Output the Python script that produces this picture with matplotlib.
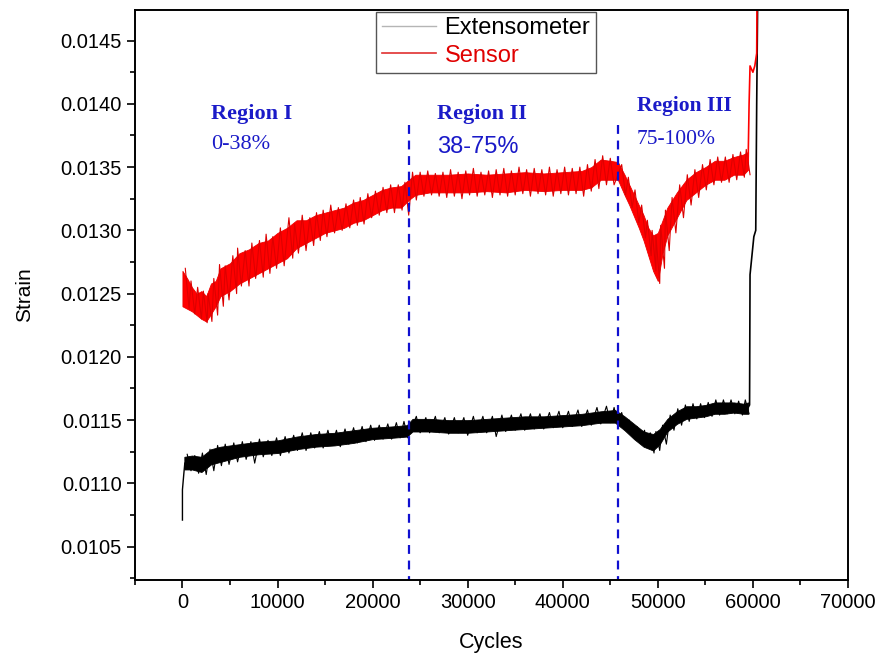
import matplotlib.pyplot as plt
from matplotlib.lines import Line2D
import numpy as np

# sensor (red) band: cycles, upper and lower edge of the noise
sensor_cycles = [0, 500, 1000, 1500, 2000, 2500, 3000, 3500, 4000, 5000, 6000, 7000, 8000, 9000,
                 10000, 11000, 12000, 13000, 14000, 15000, 16000, 17000, 18000, 19000, 20000,
                 21000, 22000, 23000, 23800, 24500, 26000, 28000, 30000, 32000, 34000, 36000,
                 38000, 40000, 42000, 43000, 44000, 45000, 45800, 46500, 47000, 48000, 48500,
                 49000, 49500, 50000, 50500, 51000, 52000, 53000, 54000, 55000, 56000, 57000,
                 58000, 59000, 59500]
sensor_hi = [12.68, 12.62, 12.55, 12.50, 12.52, 12.48, 12.58, 12.60, 12.70, 12.74, 12.82, 12.85,
             12.90, 12.92, 12.98, 13.02, 13.08, 13.08, 13.12, 13.14, 13.16, 13.18, 13.22, 13.24,
             13.28, 13.32, 13.34, 13.35, 13.40, 13.44, 13.44, 13.44, 13.45, 13.44, 13.45, 13.46,
             13.45, 13.46, 13.47, 13.50, 13.56, 13.55, 13.54, 13.44, 13.36, 13.20, 13.12, 13.02,
             12.96, 12.98, 13.08, 13.18, 13.30, 13.40, 13.46, 13.50, 13.55, 13.55, 13.58, 13.60,
             13.62]
sensor_lo = [12.40, 12.38, 12.36, 12.33, 12.30, 12.28, 12.34, 12.40, 12.48, 12.52, 12.58, 12.62,
             12.66, 12.70, 12.74, 12.78, 12.86, 12.90, 12.94, 12.98, 13.00, 13.02, 13.06, 13.08,
             13.12, 13.16, 13.18, 13.18, 13.24, 13.28, 13.30, 13.30, 13.30, 13.31, 13.30, 13.32,
             13.31, 13.32, 13.32, 13.34, 13.40, 13.40, 13.40, 13.28, 13.20, 13.02, 12.92, 12.80,
             12.68, 12.60, 12.82, 12.96, 13.10, 13.24, 13.30, 13.36, 13.40, 13.40, 13.44, 13.44,
             13.48]
# noise extremes that stick out of the red band
sensor_spike_cycles = [300, 900, 1600, 2200, 2700, 3300, 3900, 4500, 5300, 5800, 6600, 7300, 8100,
                       8800, 9500, 10300, 11200, 11800, 12600, 13400, 14100, 14800, 15600, 16400,
                       17200, 18000, 18700, 19500, 20300, 21100, 21900, 22700, 23400, 24200,
                       25000, 25800, 26600, 27400, 28200, 29000, 29800, 30600, 31400, 32200,
                       33000, 33800, 34600, 35400, 36200, 37000, 37800, 38600, 39400, 40200,
                       41000, 41800, 42600, 43400, 44200, 45000, 46200, 46900, 47600, 48300,
                       48900, 49400, 49800, 50300, 50800, 51500, 52300, 53100, 53900, 54700,
                       55500, 56300, 57100, 57900, 58700, 59300]
sensor_spike_lo = [12.38, 12.34, 12.30, 12.27, 12.28, 12.33, 12.40, 12.45, 12.50, 12.56, 12.56,
                   12.62, 12.63, 12.66, 12.70, 12.72, 12.78, 12.82, 12.84, 12.88, 12.92, 12.95,
                   12.98, 13.00, 13.02, 13.04, 13.05, 13.10, 13.12, 13.14, 13.14, 13.16, 13.12,
                   13.24, 13.27, 13.28, 13.27, 13.26, 13.27, 13.25, 13.28, 13.27, 13.28, 13.26,
                   13.28, 13.27, 13.28, 13.29, 13.27, 13.29, 13.28, 13.27, 13.29, 13.28, 13.29,
                   13.27, 13.31, 13.33, 13.36, 13.36, 13.28, 13.18, 13.06, 12.94, 12.80, 12.68,
                   12.58, 12.70, 12.84, 12.98, 13.10, 13.20, 13.26, 13.32, 13.36, 13.38, 13.38,
                   13.40, 13.42, 13.44]
sensor_spike_hi = [12.70, 12.60, 12.55, 12.52, 12.50, 12.62, 12.73, 12.72, 12.80, 12.86, 12.84,
                   12.90, 12.92, 12.97, 12.95, 13.02, 13.10, 13.05, 13.12, 13.10, 13.14, 13.16,
                   13.20, 13.18, 13.21, 13.24, 13.26, 13.29, 13.31, 13.34, 13.36, 13.36, 13.38,
                   13.46, 13.46, 13.47, 13.45, 13.46, 13.48, 13.46, 13.47, 13.49, 13.46, 13.47,
                   13.48, 13.49, 13.47, 13.50, 13.48, 13.49, 13.48, 13.50, 13.48, 13.50, 13.49,
                   13.50, 13.52, 13.56, 13.59, 13.57, 13.52, 13.42, 13.32, 13.20, 13.08, 13.00,
                   12.96, 13.04, 13.16, 13.26, 13.36, 13.44, 13.48, 13.52, 13.56, 13.58, 13.58,
                   13.60, 13.62, 13.64]
# final failure jump of the sensor
sensor_end_cycles = [59500, 59600, 59700, 60000, 60200, 60400, 60450]
sensor_end = [13.55, 14.00, 14.30, 14.25, 14.30, 14.40, 15.00]

# extensometer (black) band
ext_cycles = [200, 1000, 2000, 3000, 4000, 5000, 6000, 8000, 10000, 12000, 14000, 16000, 18000,
              20000, 22000, 23600, 24200, 26000, 28000, 30000, 32000, 34000, 36000, 38000, 40000,
              42000, 44000, 45500, 46500, 47500, 48500, 49500, 50200, 51000, 52000, 53000, 54000,
              55000, 56000, 57000, 58000, 59000, 59500]
ext_hi = [11.21, 11.22, 11.21, 11.27, 11.29, 11.30, 11.31, 11.33, 11.34, 11.37, 11.39, 11.40,
          11.42, 11.44, 11.45, 11.46, 11.51, 11.51, 11.50, 11.50, 11.51, 11.52, 11.53, 11.53,
          11.54, 11.55, 11.57, 11.58, 11.53, 11.47, 11.41, 11.39, 11.43, 11.51, 11.57, 11.61,
          11.61, 11.62, 11.64, 11.64, 11.64, 11.63, 11.64]
ext_lo = [11.11, 11.11, 11.09, 11.15, 11.17, 11.19, 11.21, 11.23, 11.24, 11.27, 11.29, 11.30,
          11.32, 11.35, 11.36, 11.37, 11.41, 11.41, 11.40, 11.40, 11.41, 11.42, 11.43, 11.44,
          11.45, 11.46, 11.48, 11.48, 11.42, 11.35, 11.29, 11.26, 11.31, 11.41, 11.47, 11.51,
          11.52, 11.53, 11.55, 11.55, 11.56, 11.55, 11.55]
ext_spike_cycles = [500, 1300, 2100, 2900, 3700, 4500, 5400, 6300, 7200, 8100, 9000, 9900, 10800,
                    11700, 12600, 13500, 14400, 15300, 16200, 17100, 18000, 18900, 19800, 20700,
                    21600, 22500, 23300, 24600, 25600, 26600, 27600, 28600, 29600, 30600, 31600,
                    32600, 33600, 34600, 35600, 36600, 37600, 38600, 39600, 40600, 41600, 42600,
                    43600, 44600, 45400, 46200, 47000, 47800, 48600, 49200, 49800, 50500, 51300,
                    52100, 52900, 53700, 54500, 55300, 56100, 56900, 57700, 58500, 59200]
ext_spike_lo = [11.10, 11.08, 11.07, 11.10, 11.14, 11.15, 11.17, 11.19, 11.16, 11.21, 11.22,
                11.22, 11.24, 11.26, 11.26, 11.28, 11.28, 11.30, 11.29, 11.31, 11.32, 11.33,
                11.34, 11.35, 11.35, 11.36, 11.36, 11.40, 11.40, 11.40, 11.39, 11.40, 11.38,
                11.40, 11.40, 11.37, 11.41, 11.42, 11.42, 11.43, 11.43, 11.44, 11.44, 11.45,
                11.45, 11.46, 11.47, 11.48, 11.47, 11.44, 11.38, 11.33, 11.28, 11.24, 11.26,
                11.31, 11.42, 11.46, 11.49, 11.51, 11.52, 11.53, 11.54, 11.55, 11.55, 11.54,
                11.55]
ext_spike_hi = [11.23, 11.22, 11.24, 11.27, 11.30, 11.31, 11.32, 11.33, 11.33, 11.35, 11.34,
                11.36, 11.37, 11.38, 11.40, 11.40, 11.41, 11.42, 11.42, 11.43, 11.44, 11.45,
                11.46, 11.46, 11.47, 11.48, 11.49, 11.53, 11.52, 11.53, 11.52, 11.52, 11.52,
                11.53, 11.53, 11.53, 11.54, 11.54, 11.55, 11.55, 11.55, 11.56, 11.57, 11.57,
                11.58, 11.58, 11.60, 11.61, 11.60, 11.56, 11.50, 11.45, 11.42, 11.40, 11.41,
                11.46, 11.54, 11.59, 11.62, 11.63, 11.63, 11.64, 11.66, 11.66, 11.66, 11.65,
                11.66]
ext_start_cycles = [0, 0, 150, 250]
ext_start = [10.71, 10.95, 11.08, 11.16]
ext_end_cycles = [59500, 59650, 59700, 59900, 60100, 60300, 60400, 60500]
ext_end = [11.60, 11.62, 12.65, 12.80, 12.95, 13.00, 14.00, 14.80]

region_bounds = [23800, 45800]


def zigzag(xs, lo, hi):
    # run the trace from each spike top to the matching bottom, like a noisy signal
    px, py = [], []
    for x, l, h in zip(xs, lo, hi):
        px += [x, x + 400]
        py += [h / 1000, l / 1000]
    return px, py


fig = plt.figure(figsize=(8.76, 6.58), dpi=100)
ax = fig.add_axes([0.154, 0.1185, 0.814, 0.8665])

ec = np.array(ext_cycles)
ax.fill_between(ec, np.array(ext_lo) / 1000, np.array(ext_hi) / 1000,
                color='black', edgecolor='black', linewidth=0.6)
zx, zy = zigzag(ext_spike_cycles, ext_spike_lo, ext_spike_hi)
ax.plot(zx, zy, color='black', linewidth=0.8)
ax.plot(ext_start_cycles, np.array(ext_start) / 1000, color='black', linewidth=1)
ax.plot(ext_end_cycles, np.array(ext_end) / 1000, color='black', linewidth=1.2)

sc = np.array(sensor_cycles)
ax.fill_between(sc, np.array(sensor_lo) / 1000, np.array(sensor_hi) / 1000,
                facecolor='#ff0000', edgecolor='#ee0000', linewidth=0.6)
zx, zy = zigzag(sensor_spike_cycles, sensor_spike_lo, sensor_spike_hi)
ax.plot(zx, zy, color='#dd0000', linewidth=0.8)
ax.plot(sensor_end_cycles, np.array(sensor_end) / 1000, color='#ff0000', linewidth=1.2)

for xb in region_bounds:
    ax.plot([xb, xb], [0.0102, 0.01388], color='#1010d0', linewidth=1.6,
            linestyle=(0, (4, 3)))

blue = '#1a1ac8'
ax.text(3000, 0.01392, 'Region I', family='Liberation Serif', fontweight='bold',
        fontsize=16, color=blue, va='center')
ax.text(3000, 0.01368, '0-38%', family='Liberation Serif', fontsize=16, color=blue, va='center')
ax.text(26800, 0.01392, 'Region II', family='Liberation Serif', fontweight='bold',
        fontsize=16, color=blue, va='center')
ax.text(26800, 0.01366, '38-75%', family='Liberation Sans', fontsize=17, color=blue, va='center')
ax.text(47800, 0.01398, 'Region III', family='Liberation Serif', fontweight='bold',
        fontsize=15.5, color=blue, va='center')
ax.text(47800, 0.01372, '75-100%', family='Liberation Serif', fontsize=15.5, color=blue,
        va='center')

ax.set_xlim(-5000, 70000)
ax.set_ylim(0.010236, 0.014743)
ax.set_xticks(np.arange(0, 70001, 10000))
ax.set_xticks(np.arange(-5000, 70001, 5000), minor=True)
ax.set_yticks(np.arange(0.0105, 0.01451, 0.0005))
ax.set_yticks(np.arange(0.01025, 0.01475, 0.00025), minor=True)
ax.set_yticklabels(['%.4f' % v for v in np.arange(0.0105, 0.01451, 0.0005)])
ax.tick_params(axis='both', which='major', direction='out', length=6, width=1.2,
               labelsize=14.5)
ax.tick_params(axis='both', which='minor', direction='out', length=3.5, width=1.2)
for s in ax.spines.values():
    s.set_linewidth(1.4)
for lab in ax.get_xticklabels() + ax.get_yticklabels():
    lab.set_family('Liberation Sans')

ax.set_xlabel('Cycles', fontsize=15.5, family='Liberation Sans', labelpad=14)
ax.set_ylabel('Strain', fontsize=15, family='Liberation Sans', labelpad=19)

handles = [Line2D([], [], color='#b5b5b5', linewidth=1),
           Line2D([], [], color='#e03030', linewidth=1.2)]
leg = ax.legend(handles, ['Extensometer', 'Sensor'], loc='upper left',
                bbox_to_anchor=(0.338, 0.997), borderaxespad=0, fancybox=False,
                edgecolor='#555555', framealpha=1, prop={'family': 'Liberation Sans', 'size': 17},
                handlelength=2.3, handletextpad=0.35, labelspacing=0.22, borderpad=0.25)
leg.get_frame().set_linewidth(1)
leg.get_texts()[1].set_color('#e00000')

plt.savefig('out.png', dpi=100)
